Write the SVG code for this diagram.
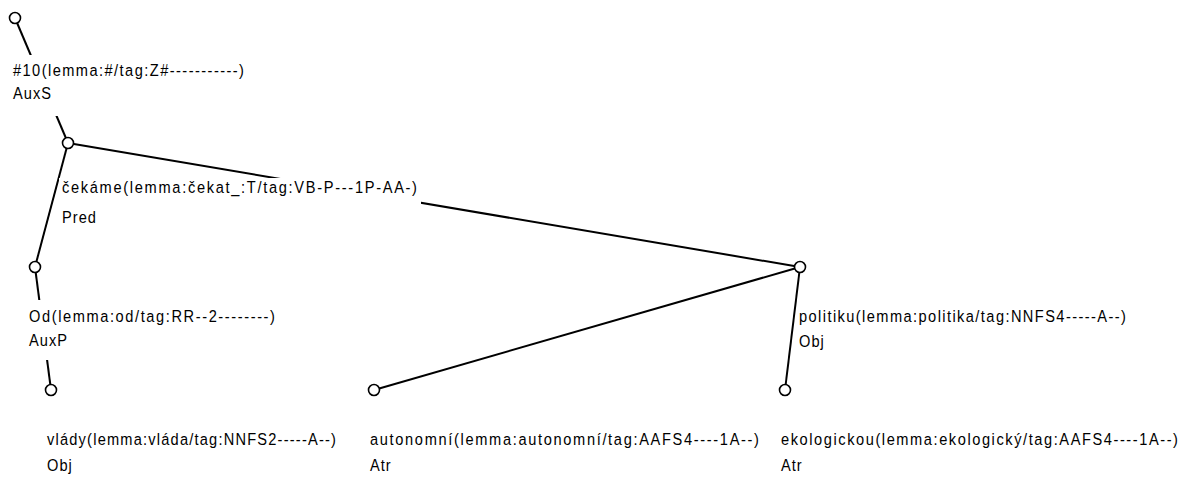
<svg xmlns="http://www.w3.org/2000/svg" width="1189" height="477" viewBox="0 0 1189 477">
  <style>
    .edge { stroke: #000; stroke-width: 2; fill: none; }
    .node { fill: #fff; stroke: #000; stroke-width: 1.6; }
    .pad { fill: #fff; stroke: none; }
    .lbl { font-family: "Liberation Sans", Arial, sans-serif; font-size: 17px; fill: #000; letter-spacing: 1.2px; }
  </style>
  <rect width="1189" height="477" fill="#fff"/>

  <!-- dependency edges (parent to child) -->
  <g id="connectors">
    <line class="edge" x1="15" y1="18" x2="68" y2="143"/>
    <line class="edge" x1="68" y1="143" x2="35" y2="267"/>
    <line class="edge" x1="68" y1="143" x2="800" y2="267"/>
    <line class="edge" x1="35" y1="267" x2="51" y2="390"/>
    <line class="edge" x1="800" y1="267" x2="374" y2="390"/>
    <line class="edge" x1="800" y1="267" x2="785" y2="390"/>
  </g>

  <!-- labels use condensed glyphs: scale(0.86,1) -->
  <g id="n-root">
    <circle class="node" cx="15" cy="18" r="5.5"/>
    <rect class="pad" x="10" y="55" width="238" height="61"/>
    <text class="lbl" transform="translate(13,76) scale(0.86,1)" textLength="269.8" lengthAdjust="spacing">#10(lemma:#/tag:Z#-----------)</text>
    <text class="lbl" transform="translate(13,99) scale(0.86,1)">AuxS</text>
  </g>

  <g id="n-cekame">
    <circle class="node" cx="68" cy="143" r="5.5"/>
    <rect class="pad" x="59" y="178" width="362" height="60"/>
    <text class="lbl" transform="translate(62,193) scale(0.86,1)" textLength="414" lengthAdjust="spacing">čekáme(lemma:čekat_:T/tag:VB-P---1P-AA-)</text>
    <text class="lbl" transform="translate(62,223) scale(0.86,1)">Pred</text>
  </g>

  <g id="n-od">
    <circle class="node" cx="35" cy="267" r="5.5"/>
    <rect class="pad" x="27" y="300" width="252" height="60"/>
    <text class="lbl" transform="translate(29,322) scale(0.86,1)" textLength="287.2" lengthAdjust="spacing">Od(lemma:od/tag:RR--2--------)</text>
    <text class="lbl" transform="translate(29,346) scale(0.86,1)">AuxP</text>
  </g>

  <g id="n-vlady">
    <circle class="node" cx="51" cy="390" r="5.5"/>
    <rect class="pad" x="44" y="424" width="296" height="52"/>
    <text class="lbl" transform="translate(47,445) scale(0.86,1)" textLength="337.2" lengthAdjust="spacing">vlády(lemma:vláda/tag:NNFS2-----A--)</text>
    <text class="lbl" transform="translate(47,471) scale(0.86,1)">Obj</text>
  </g>

  <g id="n-autonomni">
    <circle class="node" cx="374" cy="390" r="5.5"/>
    <rect class="pad" x="367" y="424" width="396" height="52"/>
    <text class="lbl" transform="translate(370,445) scale(0.86,1)" textLength="453.5" lengthAdjust="spacing">autonomní(lemma:autonomní/tag:AAFS4----1A--)</text>
    <text class="lbl" transform="translate(370,471) scale(0.86,1)">Atr</text>
  </g>

  <g id="n-politiku">
    <circle class="node" cx="800" cy="267" r="5.5"/>
    <rect class="pad" x="797" y="300" width="334" height="60"/>
    <text class="lbl" transform="translate(799,322) scale(0.86,1)" textLength="381.4" lengthAdjust="spacing">politiku(lemma:politika/tag:NNFS4-----A--)</text>
    <text class="lbl" transform="translate(799,347) scale(0.86,1)">Obj</text>
  </g>

  <g id="n-ekologickou">
    <circle class="node" cx="785" cy="390" r="5.5"/>
    <rect class="pad" x="778" y="424" width="408" height="52"/>
    <text class="lbl" transform="translate(781,445) scale(0.86,1)" textLength="462.8" lengthAdjust="spacing">ekologickou(lemma:ekologický/tag:AAFS4----1A--)</text>
    <text class="lbl" transform="translate(781,471) scale(0.86,1)">Atr</text>
  </g>
</svg>
